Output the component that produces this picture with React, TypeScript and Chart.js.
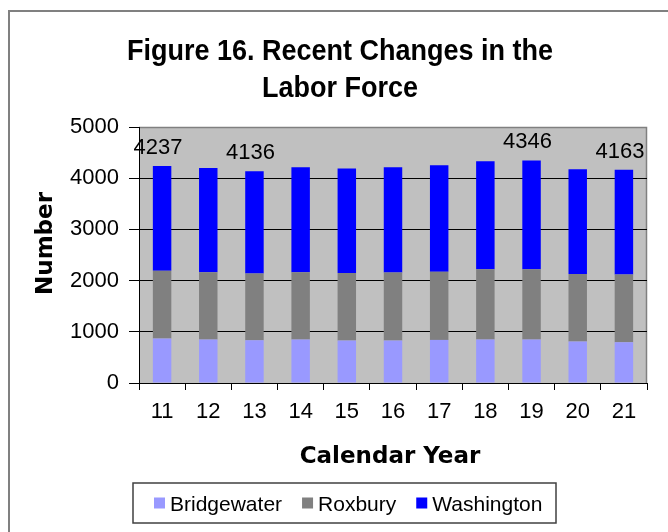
import React, { useEffect, useRef } from "react";
import { Chart, registerables } from "chart.js";

Chart.register(...registerables);

// ---- data ----
const years = ["11", "12", "13", "14", "15", "16", "17", "18", "19", "20", "21"];
const bridgewater = [868, 849, 835, 849, 829, 829, 842, 849, 849, 810, 796];
const roxbury = [1322, 1313, 1302, 1313, 1320, 1327, 1333, 1372, 1372, 1320, 1321];
const washington = [2047, 2038, 1999, 2053, 2041, 2059, 2080, 2111, 2125, 2045, 2046];
const labeledIndexes = [0, 2, 8, 10];
const yMin = 0;
const yMax = 5000;
const yStep = 1000;
const titleLines = ["Figure 16. Recent Changes in the", "Labor Force"];
const xTitle = "Calendar Year";
const yTitle = "Number";
const seriesNames = ["Bridgewater", "Roxbury", "Washington"];
const seriesColors = ["#9999FF", "#808080", "#0000FF"];

const SANS = '"Liberation Sans", Arial, Helvetica, sans-serif';
const HEAVY = '"DejaVu Sans", "Liberation Sans", sans-serif';

const decorPlugin = {
  id: "decor",
  beforeDraw(chart: any) {
    const { ctx, chartArea: a } = chart;
    ctx.save();
    // outer frame (left + top)
    ctx.strokeStyle = "#808080";
    ctx.lineWidth = 2;
    ctx.beginPath();
    ctx.moveTo(9, chart.height);
    ctx.lineTo(9, 11);
    ctx.lineTo(chart.width, 11);
    ctx.stroke();
    // plot area background
    ctx.fillStyle = "#C0C0C0";
    ctx.fillRect(a.left, a.top, a.right - a.left, a.bottom - a.top);
    ctx.strokeStyle = "#808080";
    ctx.lineWidth = 1.5;
    ctx.beginPath();
    ctx.moveTo(a.left, a.top + 0.5);
    ctx.lineTo(a.right - 0.5, a.top + 0.5);
    ctx.lineTo(a.right - 0.5, a.bottom);
    ctx.stroke();
    ctx.restore();
  },
  afterDatasetsDraw(chart: any) {
    const { ctx } = chart;
    const last = chart.getDatasetMeta(chart.data.datasets.length - 1);
    ctx.save();
    ctx.fillStyle = "#000";
    ctx.font = `22px ${SANS}`;
    ctx.textAlign = "center";
    ctx.textBaseline = "alphabetic";
    labeledIndexes.forEach((i) => {
      const total = chart.data.datasets.reduce((s: number, d: any) => s + d.data[i], 0);
      const el = last.data[i];
      ctx.fillText(String(total), el.x - 4, el.y - 12);
    });
    ctx.restore();
  },
  afterDraw(chart: any) {
    const { ctx, chartArea: a } = chart;
    ctx.save();
    ctx.fillStyle = "#000";
    // title
    ctx.font = `bold 27px ${SANS}`;
    ctx.textAlign = "center";
    ctx.textBaseline = "alphabetic";
    const titleBaselines = [59.5, 97];
    titleLines.forEach((line, k) => {
      ctx.save();
      ctx.translate(340, titleBaselines[k]);
      ctx.scale(1, 1.1);
      ctx.fillText(line, 0, 0);
      ctx.restore();
    });
    // x axis title
    ctx.font = `bold 23px ${HEAVY}`;
    ctx.fillText(xTitle, (a.left + a.right) / 2 - 3, 462.5);
    // y axis title
    ctx.save();
    ctx.translate(51.5, 243.5);
    ctx.rotate(-Math.PI / 2);
    ctx.fillText(yTitle, 0, 0);
    ctx.restore();

    // legend
    const box = { left: 133, top: 483, width: 423, height: 40 };
    ctx.strokeStyle = "#404040";
    ctx.lineWidth = 1.5;
    ctx.strokeRect(box.left, box.top, box.width, box.height);
    ctx.font = `21px ${SANS}`;
    ctx.textAlign = "left";
    const mid = box.top + box.height / 2;
    let x = box.left + 21;
    chart.data.datasets.forEach((d: any) => {
      ctx.fillStyle = d.backgroundColor;
      ctx.fillRect(x, mid - 5.5, 11, 11);
      ctx.fillStyle = "#000";
      ctx.fillText(d.label, x + 16, mid + 7.5);
      x += 16 + ctx.measureText(d.label).width + 20;
    });
    ctx.restore();
  },
};

export default function App() {
  const ref = useRef<HTMLCanvasElement | null>(null);

  useEffect(() => {
    if (!ref.current) return;
    const seriesValues = [bridgewater, roxbury, washington];
    const chart = new Chart(ref.current, {
      type: "bar",
      data: {
        labels: years,
        datasets: seriesValues.map((vals, k) => ({
          label: seriesNames[k],
          data: vals,
          backgroundColor: seriesColors[k],
          borderWidth: 0,
          barPercentage: 0.4,
          categoryPercentage: 1,
        })),
      },
      options: {
        responsive: false,
        animation: false,
        layout: { padding: { left: 0, right: 21, top: 127, bottom: 0 } },
        plugins: {
          legend: { display: false },
          title: { display: false },
          tooltip: { enabled: false },
        },
        scales: {
          x: {
            stacked: true,
            grid: {
              offset: true,
              drawOnChartArea: false,
              drawTicks: true,
              tickLength: 7,
              tickColor: "#000",
              color: "#000",
            },
            border: { display: true, color: "#000", width: 1 },
            ticks: {
              color: "#000",
              font: { family: SANS, size: 22 },
              padding: 9,
              maxRotation: 0,
              autoSkip: false,
            },
            afterFit: (s: any) => {
              s.height = 149;
            },
          },
          y: {
            stacked: true,
            min: yMin,
            max: yMax,
            grid: {
              color: (c: any) => (c.tick && c.tick.value === yMax ? "rgba(0,0,0,0)" : "#000"),
              tickColor: "#000",
              tickLength: 10,
              lineWidth: 1,
            },
            border: { display: true, color: "#000", width: 1 },
            ticks: {
              stepSize: yStep,
              color: "#000",
              font: { family: SANS, size: 22 },
              padding: 10,
              callback: (v: any) => String(v),
            },
            afterFit: (s: any) => {
              s.width = 139;
            },
          },
        },
      },
      plugins: [decorPlugin],
    });
    return () => chart.destroy();
  }, []);

  return (
    <div style={{ position: "fixed", left: 0, top: 0, width: 668, height: 532, background: "#fff" }}>
      <canvas ref={ref} width={668} height={532} style={{ display: "block" }} />
    </div>
  );
}
